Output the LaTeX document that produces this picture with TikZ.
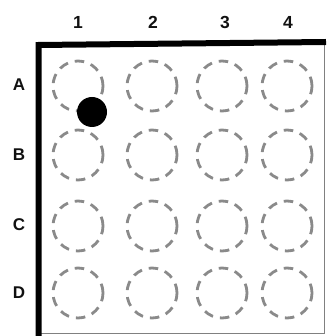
\documentclass[tikz,border=0pt]{standalone}
\usepackage{fontspec}
\setmainfont{Liberation Sans}
\usetikzlibrary{positioning}
\definecolor{clrframe}{HTML}{000000}
\definecolor{clredge}{HTML}{808080}
\definecolor{clrwell}{HTML}{8A8A8A}
\definecolor{clrtext}{HTML}{111111}
\begin{document}
\begin{tikzpicture}[
    x=1pt, y=-1pt,
    every node/.style={font=\bfseries},
    well/.style={circle, draw=clrwell, line width=2.8pt, dash pattern=on 9.5pt off 7pt,
                 minimum size=50pt, inner sep=0pt},
    sample/.style={circle, fill=clrframe, minimum size=30pt, inner sep=0pt},
    collabel/.style={font=\bfseries\fontsize{17.5}{17.5}\selectfont, text=clrtext},
    rowlabel/.style={font=\bfseries\fontsize{17}{17}\selectfont, text=clrtext},
]
\useasboundingbox (0,0) rectangle (326,336);
% plate outline
\coordinate (c_tl) at (38.5,42);
\coordinate (c_tr) at (326,42);
\coordinate (c_bl) at (38.5,336);
\draw[clredge, line width=1.5pt] (324.5,42) -- (324.5,333.5) -- (38.5,333.5);
\draw[clrframe, line width=6pt] (c_bl) -- ([yshift=-3pt]c_tl) -- (c_tr);
% column labels
\node[collabel] (l_1) at (78,22) {1};
\node[collabel] (l_2) at (153,22) {2};
\node[collabel] (l_3) at (225,22) {3};
\node[collabel] (l_4) at (288,22) {4};
% row labels
\node[rowlabel] (l_A) at (19,85) {A};
\node[rowlabel] (l_B) at (19,155) {B};
\node[rowlabel] (l_C) at (19,225) {C};
\node[rowlabel] (l_D) at (19,293) {D};
% wells
\node[well] (w_A1) at (78,86) {};
\node[well] (w_A2) at (152,86) {};
\node[well] (w_A3) at (222,86) {};
\node[well] (w_A4) at (287,86) {};
\node[well] (w_B1) at (78,155) {};
\node[well] (w_B2) at (152,155) {};
\node[well] (w_B3) at (222,155) {};
\node[well] (w_B4) at (287,155) {};
\node[well] (w_C1) at (78,226) {};
\node[well] (w_C2) at (152,226) {};
\node[well] (w_C3) at (222,226) {};
\node[well] (w_C4) at (287,226) {};
\node[well] (w_D1) at (78,293) {};
\node[well] (w_D2) at (152,293) {};
\node[well] (w_D3) at (222,293) {};
\node[well] (w_D4) at (287,293) {};
% sample dot
\node[sample] (s_1) at (92,112) {};
\end{tikzpicture}
\end{document}
